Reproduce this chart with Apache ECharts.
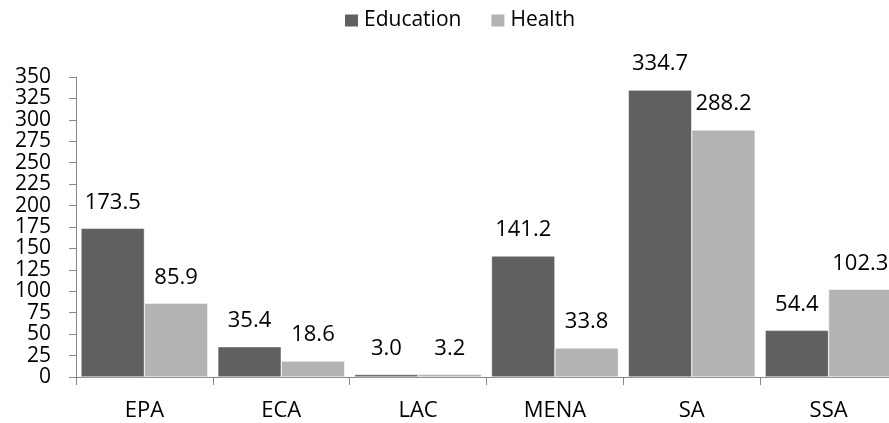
<!DOCTYPE html>
<html>
<head>
<meta charset="utf-8">
<script src="https://cdn.jsdelivr.net/npm/echarts@6/dist/echarts.min.js"></script>
<style>
  html, body { margin: 0; padding: 0; background: #fff; overflow: hidden; }
  #chart { width: 900px; height: 423px; }
</style>
</head>
<body>
<div id="chart"></div>
<script>
// Spending by region (two series per region)
const regions = ['EPA', 'ECA', 'LAC', 'MENA', 'SA', 'SSA'];
const education = [173.5, 35.4, 3.0, 141.2, 334.7, 54.4];
const health = [85.9, 18.6, 3.2, 33.8, 288.2, 102.3];
const yTicks = { min: 0, max: 350, step: 25 };

const FONT = '"Open Sans", "Noto Sans", sans-serif';
const AXIS_GREY = '#868686';

const labelStyle = {
  show: true,
  position: 'top',
  distance: 15,
  color: '#000',
  fontFamily: FONT,
  fontSize: 22,
  formatter: p => p.value.toFixed(1)
};

const chart = echarts.init(document.getElementById('chart'), null, { renderer: 'canvas' });
chart.setOption({
  animation: false,
  backgroundColor: '#fff',
  textStyle: { fontFamily: FONT },
  legend: {
    left: 338,
    top: 5,
    itemWidth: 15,
    itemHeight: 14,
    itemGap: 28,
    icon: 'rect',
    textStyle: { fontFamily: FONT, fontSize: 21, color: '#000' },
    data: ['Education', 'Health']
  },
  grid: { left: 76, top: 77, width: 821, height: 300, containLabel: false },
  xAxis: {
    type: 'category',
    data: regions,
    axisLine: { lineStyle: { color: AXIS_GREY, width: 1 } },
    axisTick: { show: true, length: 8, lineStyle: { color: AXIS_GREY } },
    axisLabel: { color: '#000', fontFamily: FONT, fontSize: 22, margin: 23 },
    splitLine: { show: false }
  },
  yAxis: {
    type: 'value',
    min: yTicks.min,
    max: yTicks.max,
    interval: yTicks.step,
    axisLine: { show: true, lineStyle: { color: AXIS_GREY, width: 1 } },
    axisTick: { show: true, length: 7, lineStyle: { color: AXIS_GREY } },
    axisLabel: { color: '#000', fontFamily: FONT, fontSize: 21, margin: 25 },
    splitLine: { show: false }
  },
  series: [
    {
      name: 'Education',
      type: 'bar',
      data: education,
      barGap: '0%',
      barCategoryGap: '7.3%',
      itemStyle: { color: '#606060', borderColor: '#ffffff', borderWidth: 0.5 },
      label: labelStyle
    },
    {
      name: 'Health',
      type: 'bar',
      data: health,
      barGap: '0%',
      barCategoryGap: '7.3%',
      itemStyle: { color: '#b3b3b3', borderColor: '#ffffff', borderWidth: 0.5 },
      label: labelStyle
    }
  ]
});
</script>
</body>
</html>
